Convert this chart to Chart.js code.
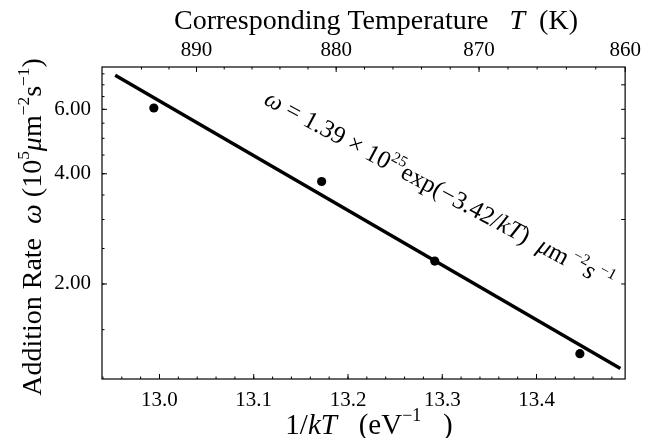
<!DOCTYPE html>
<html>
<head>
<meta charset="utf-8">
<script src="https://cdn.jsdelivr.net/npm/chart.js@4"></script>
<style>
  body { margin: 0; background: #fff; }
  #wrap { width: 645px; height: 438px; position: relative; }
</style>
</head>
<body>
<div id="wrap"><canvas id="chart"></canvas></div>
<script>
// measured points: 1/kT (eV^-1) and addition rate (10^5 um^-2 s^-1)
const invKT = [12.994, 13.172, 13.292, 13.446];
const rate = [6.05, 3.81, 2.31, 1.29];

// fitted line, two ends
const fitX = [12.953, 13.489];
const fitY = [7.43, 1.175];

// axes
const xMin = 12.939, xMax = 13.494;
const yMin = 1.10, yMax = 7.83;
const xMajor = [13.0, 13.1, 13.2, 13.3, 13.4];
const yMajor = [2, 4, 6];
const yRight = [2, 3, 4, 5, 6, 7];
const tempMajor = [890, 880, 870, 860];
const kB = 8.617e-5; // eV/K

const xMinor = [];
for (let v = 12.94; v < xMax; v += 0.02) xMinor.push(+v.toFixed(2));
const yMinor = [];
for (let v = 1.5; v < yMax; v += 0.5) yMinor.push(v);
const tempMinor = [];
for (let t = 894; t >= 860; t -= 2) tempMinor.push(t);

const FONT = '"Liberation Serif", "Times New Roman", serif';

function rich(ctx, parts, size, cx, cy, angle) {
    ctx.save();
    ctx.translate(cx, cy);
    ctx.rotate(angle);
    const fontOf = p => (p.i ? 'italic ' : '') + (p.sup ? size * 0.62 : size) + 'px ' + FONT;
    let w = 0;
    parts.forEach(p => { ctx.font = fontOf(p); p.w = ctx.measureText(p.t).width; w += p.w; });
    let x = -w / 2;
    ctx.fillStyle = '#000';
    ctx.textAlign = 'left';
    ctx.textBaseline = 'alphabetic';
    parts.forEach(p => {
        ctx.font = fontOf(p);
        ctx.fillText(p.t, x, size * 0.33 - (p.sup ? size * 0.42 : 0));
        x += p.w;
    });
    ctx.restore();
}

const framePlugin = {
    id: 'frame',
    beforeDraw(chart) {
        const ctx = chart.ctx;
        ctx.save();
        ctx.fillStyle = '#fff';
        ctx.fillRect(0, 0, chart.width, chart.height);
        ctx.restore();
    },
    afterDraw(chart) {
        const ctx = chart.ctx;
        const a = chart.chartArea;
        const sx = chart.scales.x, sy = chart.scales.y;
        ctx.save();
        ctx.strokeStyle = '#000';
        ctx.lineWidth = 1.2;
        ctx.strokeRect(a.left, a.top, a.right - a.left, a.bottom - a.top);

        ctx.beginPath();
        const tick = (x1, y1, x2, y2) => { ctx.moveTo(x1, y1); ctx.lineTo(x2, y2); };
        xMajor.forEach(v => { const p = sx.getPixelForValue(v); tick(p, a.bottom, p, a.bottom - 5); });
        xMinor.forEach(v => { const p = sx.getPixelForValue(v); tick(p, a.bottom, p, a.bottom - 2.5); });
        tempMajor.forEach(t => { const p = sx.getPixelForValue(1 / (kB * t)); tick(p, a.top, p, a.top + 5); });
        tempMinor.forEach(t => {
            const v = 1 / (kB * t);
            if (v < xMin || v > xMax) return;
            const p = sx.getPixelForValue(v); tick(p, a.top, p, a.top + 2.5);
        });
        yMajor.forEach(v => { const p = sy.getPixelForValue(v); tick(a.left, p, a.left + 5, p); });
        yMinor.forEach(v => { const p = sy.getPixelForValue(v); tick(a.left, p, a.left + 2.5, p); });
        yRight.forEach(v => { const p = sy.getPixelForValue(v); tick(a.right, p, a.right - 4, p); });
        ctx.lineWidth = 1;
        ctx.stroke();
        ctx.restore();

        // axis titles
        rich(ctx, [{ t: 'Corresponding Temperature   ' }, { t: 'T', i: 1 }, { t: '  (K)' }],
            28, 376, 20, 0);
        rich(ctx, [{ t: '1/' }, { t: 'kT', i: 1 }, { t: '   (eV' }, { t: '−1', sup: 1 }, { t: '   )' }],
            29, 369, 424, 0);
        rich(ctx, [{ t: 'Addition Rate  ' }, { t: 'ω', i: 1 }, { t: ' (10' }, { t: '5', sup: 1 },
            { t: 'μ', i: 1 }, { t: 'm' }, { t: '−2', sup: 1 }, { t: 's' }, { t: '−1', sup: 1 }, { t: ')' }],
            28, 32, 227, -Math.PI / 2);

        // fit formula along the line
        rich(ctx, [{ t: 'ω', i: 1 }, { t: ' = 1.39 × 10' }, { t: '25', sup: 1 }, { t: 'exp(−3.42/' },
            { t: 'kT', i: 1 }, { t: ')  ' }, { t: 'μ', i: 1 }, { t: 'm' }, { t: ' −2', sup: 1 },
            { t: 's', i: 1 }, { t: ' −1', sup: 1 }],
            25, sx.getPixelForValue(13.297), sy.getPixelForValue(3.63), 28.3 * Math.PI / 180);
    }
};

new Chart(document.getElementById('chart'), {
    type: 'scatter',
    data: {
        datasets: [
            {
                label: 'fit',
                data: fitX.map((x, i) => ({ x, y: fitY[i] })),
                showLine: true,
                borderColor: '#000',
                borderWidth: 3.4,
                pointRadius: 0,
                xAxisID: 'x',
                yAxisID: 'y'
            },
            {
                label: 'data',
                data: invKT.map((x, i) => ({ x, y: rate[i] })),
                backgroundColor: '#000',
                borderWidth: 0,
                pointRadius: 4.6,
                xAxisID: 'x',
                yAxisID: 'y'
            }
        ]
    },
    options: {
        responsive: true,
        maintainAspectRatio: false,
        animation: false,
        layout: { padding: { right: 7, left: 0, top: 0, bottom: 0 } },
        plugins: { legend: { display: false }, tooltip: { enabled: false } },
        scales: {
            x: {
                type: 'linear',
                position: 'bottom',
                min: xMin,
                max: xMax,
                afterBuildTicks: s => { s.ticks = xMajor.map(v => ({ value: v })); },
                afterFit: s => { s.height = 59; },
                ticks: {
                    callback: v => v.toFixed(1),
                    color: '#000',
                    font: { family: FONT, size: 21 },
                    padding: 9,
                    maxRotation: 0
                },
                grid: { display: false, drawTicks: false },
                border: { display: false }
            },
            x2: {
                type: 'linear',
                position: 'top',
                min: xMin,
                max: xMax,
                afterBuildTicks: s => { s.ticks = tempMajor.map(t => ({ value: 1 / (kB * t) })); },
                afterFit: s => { s.height = 67; },
                ticks: {
                    callback: v => String(Math.round(1 / (kB * v))),
                    color: '#000',
                    font: { family: FONT, size: 21 },
                    padding: 4,
                    maxRotation: 0
                },
                grid: { display: false, drawTicks: false },
                border: { display: false }
            },
            y: {
                type: 'logarithmic',
                position: 'left',
                min: yMin,
                max: yMax,
                afterBuildTicks: s => { s.ticks = yMajor.map(v => ({ value: v })); },
                afterFit: s => { s.width = 102; },
                ticks: {
                    callback: v => Number(v).toFixed(2),
                    color: '#000',
                    font: { family: FONT, size: 21 },
                    padding: 11
                },
                grid: { display: false, drawTicks: false },
                border: { display: false }
            }
        }
    },
    plugins: [framePlugin]
});
</script>
</body>
</html>
